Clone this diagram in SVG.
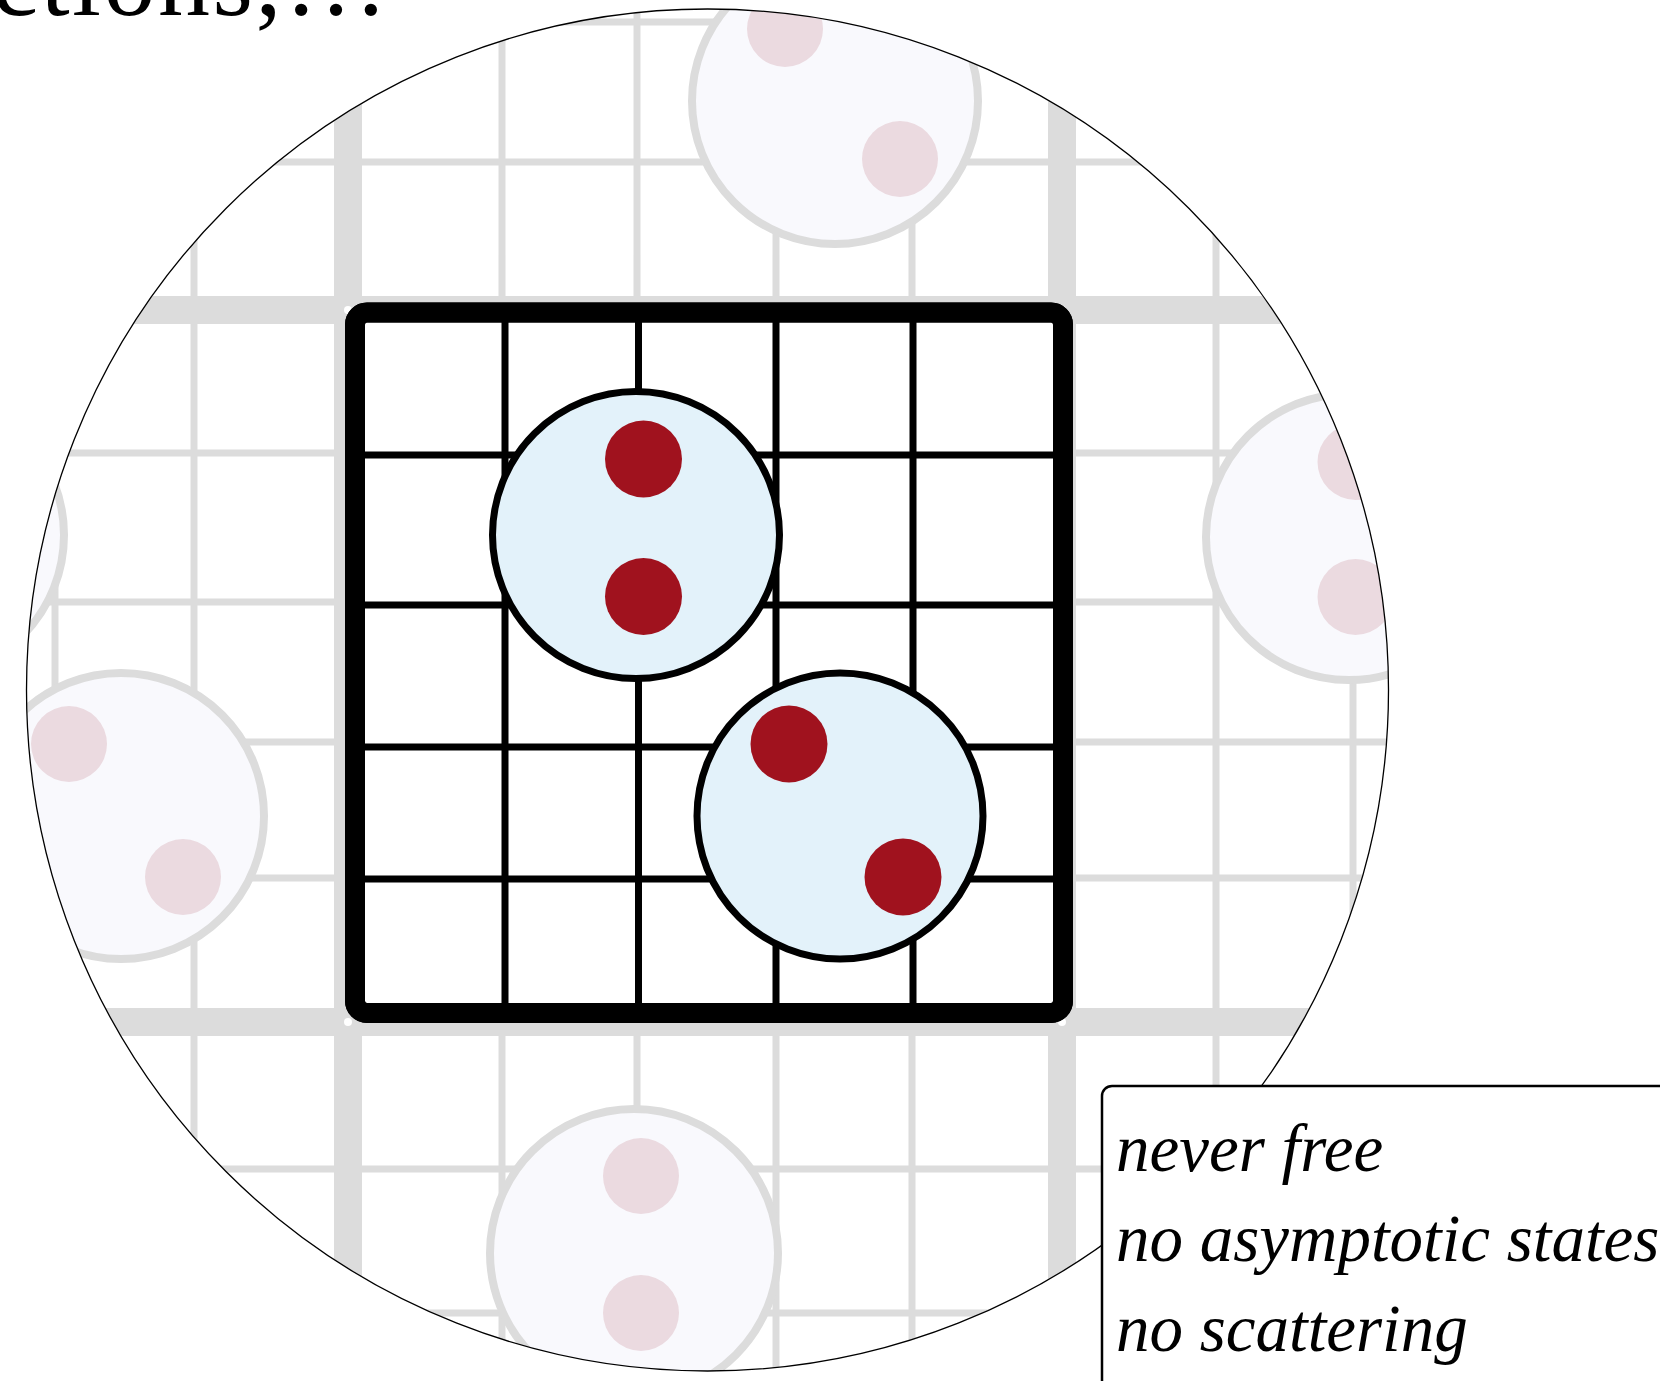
<svg xmlns="http://www.w3.org/2000/svg" width="1660" height="1381" viewBox="0 0 1660 1381">
<style>
.gthick{stroke:#dcdcdc;stroke-width:28;fill:none}
.gthin{stroke:#dcdcdc;stroke-width:7;fill:none}
.ghost{fill:#f9f9fd;stroke:#dcdcdc;stroke-width:8}
.gdot{fill:#ebdae0}
.bthin{stroke:#000;stroke-width:7;fill:none}
.frame{fill:#fff;stroke:#000;stroke-width:20}
.mol{fill:#e3f2fa;stroke:#000;stroke-width:7}
.dot{fill:#a0121e}
.it{font-family:"Liberation Serif",serif;font-style:italic;font-size:67px;fill:#000}
</style>
<defs>
<clipPath id="lens"><circle cx="707.5" cy="690" r="681"/></clipPath>
</defs>
<rect width="1660" height="1381" fill="#fff"/>
<text id="caption" x="-8" y="15" font-family="Liberation Serif, serif" font-size="104" textLength="396" lengthAdjust="spacing">ctions,…</text>
<g id="background" clip-path="url(#lens)">
  <path class="gthin" d="M55 0V1381M194 0V1381M502 0V1381M637 0V1381M776 0V1381M912 0V1381M1216 0V1381M1353 0V1381"/>
  <path class="gthin" d="M0 22H1660M0 162H1660M0 453H1660M0 602H1660M0 742H1660M0 878H1660M0 1169H1660M0 1313H1660"/>
  <path class="gthick" d="M348 0V1381M1062 0V1381M0 310H1660M0 1022H1660"/>
  <g fill="#fff">
    <circle cx="348" cy="310" r="4"/><circle cx="1062" cy="310" r="4"/>
    <circle cx="348" cy="1022" r="4"/><circle cx="1062" cy="1022" r="4"/>
  </g>
  <g id="ghost-top">
    <circle class="ghost" cx="835" cy="101" r="143"/>
    <circle class="gdot" cx="785" cy="29" r="38"/><circle class="gdot" cx="900" cy="159" r="38"/>
  </g>
  <g id="ghost-left-b">
    <circle class="ghost" cx="121" cy="816" r="143"/>
    <circle class="gdot" cx="69" cy="744" r="38"/><circle class="gdot" cx="183" cy="877" r="38"/>
  </g>
  <g id="ghost-left-a">
    <circle class="ghost" cx="-79" cy="535" r="143"/>
    <circle class="gdot" cx="-72" cy="459" r="38"/><circle class="gdot" cx="-72" cy="597" r="38"/>
  </g>
  <g id="ghost-right">
    <circle class="ghost" cx="1349" cy="537" r="143"/>
    <circle class="gdot" cx="1355.5" cy="462" r="38"/><circle class="gdot" cx="1355.5" cy="597" r="38"/>
  </g>
  <g id="ghost-bottom">
    <circle class="ghost" cx="634" cy="1253" r="144"/>
    <circle class="gdot" cx="641" cy="1176" r="38"/><circle class="gdot" cx="641" cy="1313" r="38"/>
  </g>
</g>
<circle id="lens-outline" cx="707.5" cy="690" r="681" fill="none" stroke="#000" stroke-width="1.3"/>
<g id="cell">
  <rect class="frame" x="355" y="312.5" width="708" height="700.5" rx="12"/>
  <path class="bthin" d="M505 318V1008M638.5 318V1008M776 318V1008M913 318V1008M360 455H1058M360 605H1058M360 747H1058M360 879H1058"/>
  <rect x="355" y="312.5" width="708" height="700.5" rx="12" fill="none" stroke="#000" stroke-width="20"/>
</g>
<g id="molecule-a">
  <circle class="mol" cx="636" cy="535" r="143.5"/>
  <circle class="dot" cx="643.5" cy="459" r="38.5"/>
  <circle class="dot" cx="643.5" cy="596.5" r="38.5"/>
</g>
<g id="molecule-b">
  <circle class="mol" cx="840" cy="816" r="143"/>
  <circle class="dot" cx="789" cy="744" r="38.5"/>
  <circle class="dot" cx="903" cy="877" r="38.5"/>
</g>
<g id="note">
  <rect x="1102" y="1086" width="700" height="400" rx="10" fill="#fff" stroke="#000" stroke-width="2.5"/>
  <text class="it" x="1116" y="1171">never free</text>
  <text class="it" x="1116" y="1261">no asymptotic states</text>
  <text class="it" x="1116" y="1351">no scattering</text>
</g>
</svg>
